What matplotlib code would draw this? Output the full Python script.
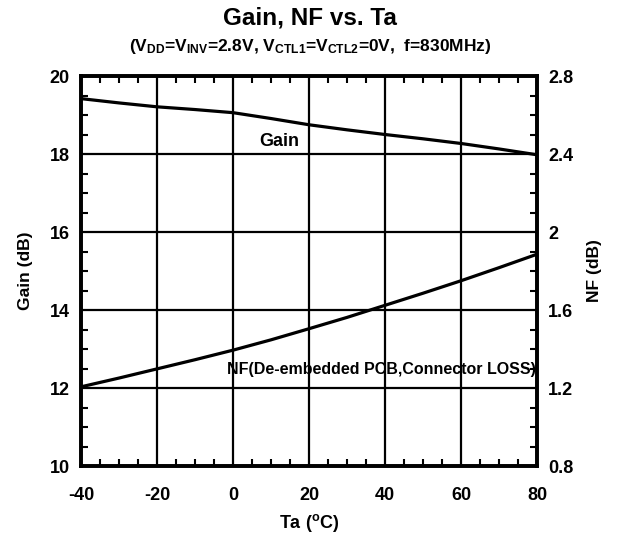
import numpy as np
import matplotlib.pyplot as plt
from matplotlib.ticker import MultipleLocator

plt.rcParams['font.family'] = 'Liberation Sans'
plt.rcParams['font.weight'] = 'bold'
plt.rcParams['axes.unicode_minus'] = False
plt.rcParams['mathtext.fontset'] = 'custom'
plt.rcParams['mathtext.rm'] = 'Liberation Sans:bold'
plt.rcParams['mathtext.bf'] = 'Liberation Sans:bold'
plt.rcParams['mathtext.it'] = 'Liberation Sans:bold'

ta = [-40, -30, -20, -10, 0, 10, 20, 30, 40, 50, 60, 70, 80]
gain = [19.42, 19.31, 19.21, 19.14, 19.06, 18.91, 18.75, 18.62, 18.50, 18.39, 18.27, 18.13, 17.98]
nf = [1.206, 1.251, 1.298, 1.345, 1.394, 1.447, 1.504, 1.562, 1.624, 1.686, 1.750, 1.817, 1.886]

x_ticks = [-40, -20, 0, 20, 40, 60, 80]
gain_ticks = [10, 12, 14, 16, 18, 20]
nf_ticks = [0.8, 1.2, 1.6, 2.0, 2.4, 2.8]
nf_labels = ['0.8', '1.2', '1.6', '2', '2.4', '2.8']

fig = plt.figure(figsize=(6.2, 5.33), dpi=100)
ax = fig.add_axes([0.1306, 0.1257, 0.7355, 0.7317])
ax2 = ax.twinx()

ax.plot(ta, gain, color='black', lw=2.3)
ax2.plot(ta, nf, color='black', lw=2.3)

ax.set_xlim(-40, 80)
ax.set_ylim(10, 20)
ax2.set_ylim(0.8, 2.8)
ax.set_xticks(x_ticks)
ax.set_yticks(gain_ticks)
ax2.set_yticks(nf_ticks)
ax2.set_yticklabels(nf_labels)
ax.xaxis.set_minor_locator(MultipleLocator(5))
ax.yaxis.set_minor_locator(MultipleLocator(0.5))
ax2.yaxis.set_minor_locator(MultipleLocator(0.1))

ax.grid(True, which='major', color='black', lw=1.6)
ax.tick_params(axis='x', which='major', length=0, labelsize=13, pad=15)
ax.tick_params(axis='y', which='major', length=0, labelsize=13, pad=8)
ax2.tick_params(which='major', length=0, labelsize=13, pad=8)
ax.tick_params(which='minor', direction='in', length=5, width=1.5, top=True, right=False)
ax2.tick_params(which='minor', direction='in', length=5, width=1.5)
for a in (ax, ax2):
    for s in a.spines.values():
        s.set_linewidth(2.6)

ax.set_xlabel('Ta ($^{o}$C)', fontsize=13, fontweight='bold', labelpad=6)
ax.set_ylabel('Gain (dB)', fontsize=12.5, fontweight='bold', labelpad=12)
ax2.set_ylabel('NF (dB)', fontsize=12.5, fontweight='bold', labelpad=10)

ax.text(12.2, 18.32, 'Gain', fontsize=13, fontweight='bold', ha='center', va='center')
ax.text(79.8, 12.48, 'NF(De-embedded PCB,Connector LOSS)', fontsize=11.5, fontweight='bold',
        ha='right', va='center')

fig.text(0.5, 0.966, 'Gain, NF vs. Ta', fontsize=17.5, fontweight='bold', ha='center', va='center')
fig.text(0.5, 0.912, r'(V$_{DD}$=V$_{INV}$=2.8V, V$_{CTL1}$=V$_{CTL2}$=0V,  f=830MHz)',
         fontsize=12.5, fontweight='bold', ha='center', va='center')

fig.savefig('out.png', dpi=100)
